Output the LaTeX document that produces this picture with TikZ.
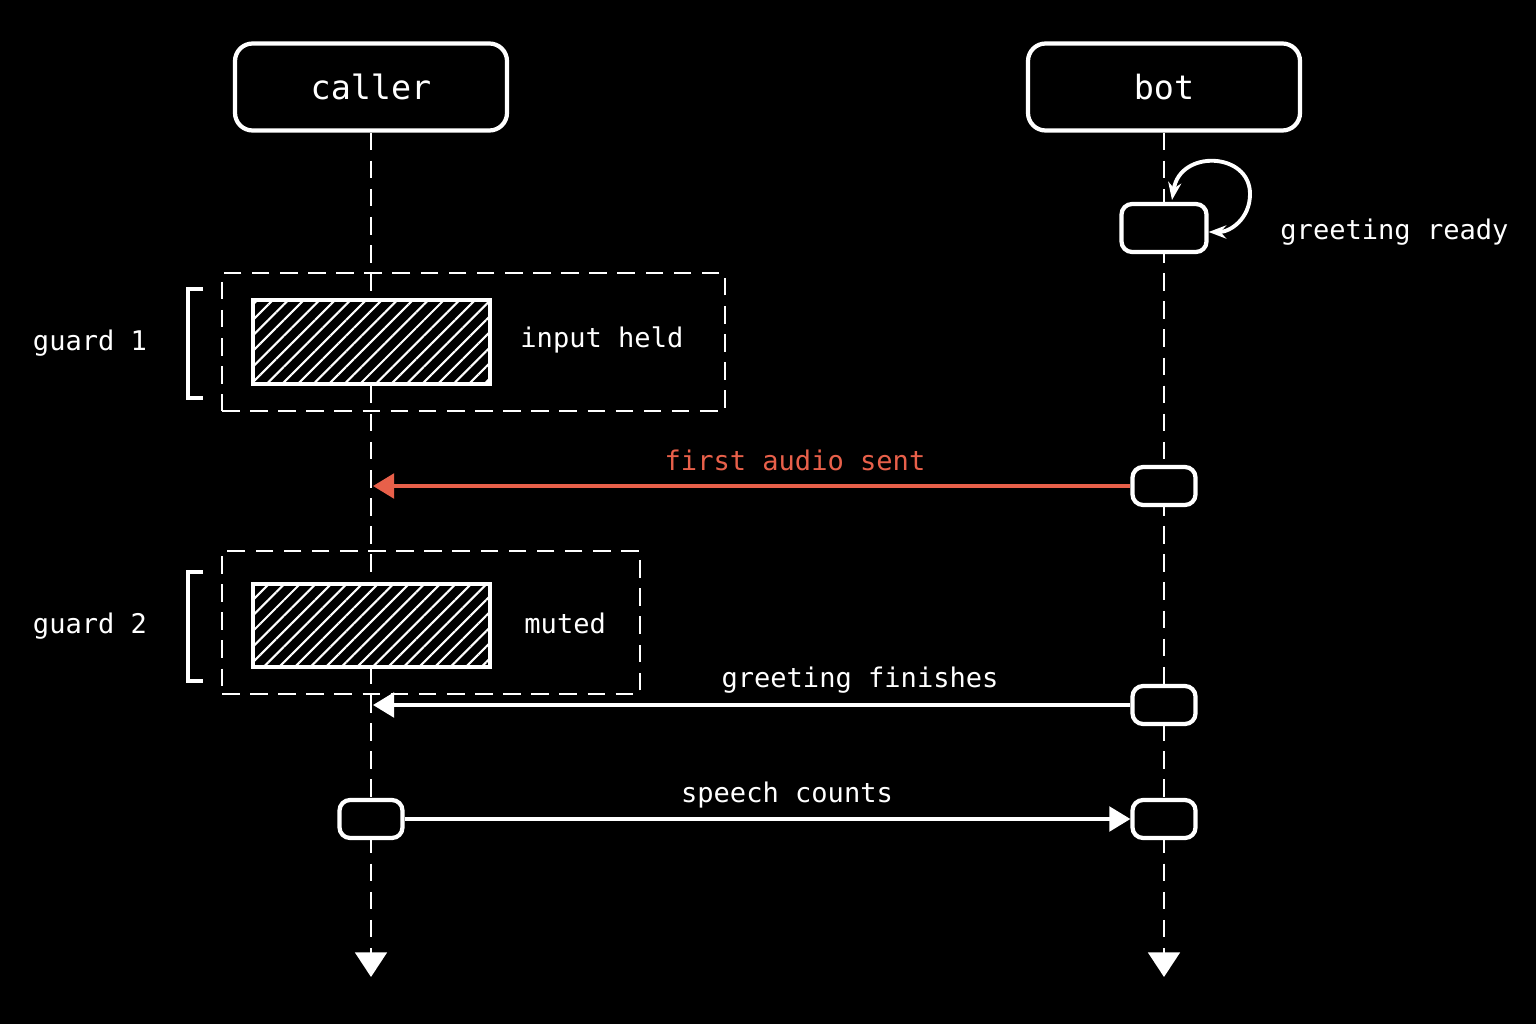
\documentclass[tikz,border=0pt]{standalone}
\usepackage{fontspec}
\setmonofont{DejaVu Sans Mono}
\usetikzlibrary{arrows.meta,patterns.meta}
\definecolor{alert}{HTML}{E8604A}

\tikzset{
  actor/.style={draw=white,line width=1.2pt,rounded corners=5pt,minimum width=2.72cm,minimum height=0.87cm,text=white,font=\ttfamily\fontsize{9.5}{11}\selectfont},
  act/.style={draw=white,line width=1.2pt,rounded corners=3pt,minimum width=0.63cm,minimum height=0.38cm,fill=black},
  life/.style={draw=white,line width=0.8pt,dash pattern=on 5pt off 3pt},
  msg/.style={line width=1pt,-{Triangle[length=6pt,width=7pt]}},
  lbl/.style={text=white,font=\ttfamily\fontsize{7.7}{10}\selectfont},
  guardbox/.style={draw=white,line width=0.7pt,dash pattern=on 5pt off 3pt},
  hold/.style={draw=white,line width=1.2pt,minimum width=2.37cm,preaction={fill=black},pattern={Lines[angle=45,distance=0.11cm,line width=0.6pt]},pattern color=white}
}

\begin{document}
\begin{tikzpicture}[x=1cm,y=1cm]
\fill[black] (0,0) rectangle (15.36,10.24);
\useasboundingbox (0,0) rectangle (15.36,10.24);

% participants
\node[actor] (caller) at (3.71,9.37) {caller};
\node[actor] (bot) at (11.64,9.37) {bot};
\coordinate (callerend) at (3.71,0.47);
\coordinate (botend) at (11.64,0.47);
\draw[life,-{Triangle[length=7pt,width=9pt]}] (caller.south) -- (callerend);
\draw[life,-{Triangle[length=7pt,width=9pt]}] (bot.south) -- (botend);

% greeting ready
\node[act,minimum width=0.85cm,minimum height=0.48cm] (ready) at (11.64,7.96) {};
\coordinate (loopin) at (11.72,8.24);
\draw[white,line width=1.1pt,{Stealth[length=5pt]}-{Stealth[length=5pt]}] (loopin) .. controls (11.80,8.75) and (12.50,8.72) .. (12.50,8.30) .. controls (12.50,8.05) and (12.30,7.92) .. (ready.east |- 0,7.92);
\node[lbl,anchor=west] (readylbl) at (12.68,7.92) {greeting ready};

% guard 1
\node[guardbox,minimum width=5.03cm,minimum height=1.38cm] (g1) at (4.735,6.82) {};
\node[hold,minimum height=0.84cm] (held) at (3.715,6.82) {};
\node[lbl,anchor=west] (heldlbl) at (5.08,6.84) {input held};
\draw[white,line width=1.2pt] (2.03,7.35) -- (1.88,7.35) -- (1.88,6.26) -- (2.03,6.26);
\node[lbl] (g1lbl) at (0.90,6.81) {guard 1};

% first audio
\node[act] (audio) at (11.64,5.38) {};
\coordinate (audioend) at (3.73,5.38);
\draw[msg,alert] (audio.west) -- (audioend);
\node[lbl,text=alert] (audiolbl) at (7.95,5.64) {first audio sent};

% guard 2
\node[guardbox,minimum width=4.18cm,minimum height=1.43cm] (g2) at (4.31,4.015) {};
\node[hold,minimum height=0.83cm] (muted) at (3.715,3.985) {};
\node[lbl,anchor=west] (mutedlbl) at (5.12,4.01) {muted};
\draw[white,line width=1.2pt] (2.03,4.52) -- (1.88,4.52) -- (1.88,3.43) -- (2.03,3.43);
\node[lbl] (g2lbl) at (0.90,3.98) {guard 2};

% greeting finishes
\node[act] (finish) at (11.64,3.19) {};
\coordinate (finishend) at (3.73,3.19);
\draw[msg,white] (finish.west) -- (finishend);
\node[lbl] (finishlbl) at (8.60,3.44) {greeting finishes};

% speech counts
\node[act] (speak) at (3.71,2.05) {};
\node[act] (hear) at (11.64,2.05) {};
\draw[msg,white] (speak.east) -- (hear.west);
\node[lbl] (speechlbl) at (7.87,2.29) {speech counts};
\end{tikzpicture}
\end{document}
